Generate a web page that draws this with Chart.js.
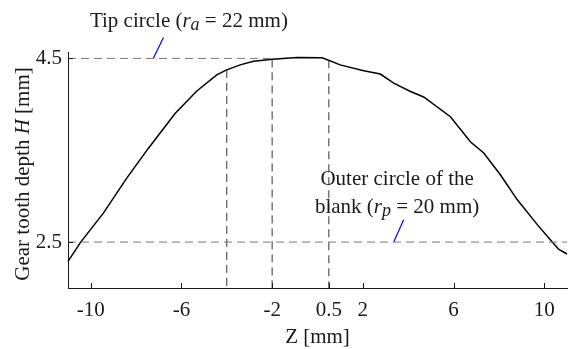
<!DOCTYPE html>
<html>
<head>
<meta charset="utf-8">
<script src="https://cdn.jsdelivr.net/npm/chart.js@4.4.1/dist/chart.umd.min.js"></script>
<style>
  html, body { margin: 0; padding: 0; background: #fff; }
</style>
</head>
<body>
<canvas id="depth" width="570" height="349"></canvas>
<script>
// Gear tooth depth H along the face width Z.

const Z_MM = [
  -11.0, -10.44, -9.44, -8.41, -7.46, -6.28, -5.32, -4.44, -4.03, -3.41,
  -2.82, -1.98, -0.9, 0.2, 0.49, 1.0, 2.04, 2.77, 3.36, 4.1,
  4.68, 5.86, 6.75, 7.33, 8.07, 8.81, 9.69, 10.35, 10.64, 11.0
];
const DEPTH_MM = [
  2.29, 2.50, 2.815, 3.196, 3.52, 3.90, 4.145, 4.32, 4.373, 4.43,
  4.47, 4.49, 4.51, 4.507, 4.48, 4.43, 4.365, 4.33, 4.23, 4.14,
  4.08, 3.865, 3.59, 3.47, 3.23, 2.96, 2.69, 2.50, 2.42, 2.37
];

const X_TICKS = [-10, -6, -2, 0.5, 2, 6, 10];
const Y_TICKS = [2.5, 4.5];

// reference levels: tip circle and blank outer circle
const TIP_DEPTH = 4.5;
const TIP_SPAN = [-11, -2];
const BLANK_DEPTH = 2.5;
const BLANK_SPAN = [-11, 11];

// vertical markers, drawn from the curve down to the axis
const MARK_Z = [-4, -2, 0.5];
const MARK_TOP = [4.375, 4.49, 4.48];

// short blue leaders pointing at the two levels
const TIP_LEADER_Z = [-7.24, -6.79];
const TIP_LEADER_H = [4.5, 4.728];
const BLANK_LEADER_Z = [3.36, 3.80];
const BLANK_LEADER_H = [2.5, 2.742];

const X_MIN = -11, X_MAX = 11;
const Y_MIN = 2.0, Y_MAX = 4.57;

const SERIF = "'Liberation Serif', 'Times New Roman', serif";
const FS = 21;
const INK = '#1a1a1a';

const pts = (xs, ys) => xs.map((x, i) => ({ x, y: ys[i] }));

const dashed = (data, color) => ({
  data, showLine: true, pointRadius: 0, borderColor: color,
  borderWidth: 1, borderDash: [8, 5], clip: false,
});

const datasets = [
  dashed(pts(TIP_SPAN, [TIP_DEPTH, TIP_DEPTH]), '#777'),
  dashed(pts(BLANK_SPAN, [BLANK_DEPTH, BLANK_DEPTH]), '#777'),
  ...MARK_Z.map((z, i) => dashed(pts([z, z], [MARK_TOP[i], Y_MIN]), '#333')),
  {
    data: pts(Z_MM, DEPTH_MM), showLine: true, pointRadius: 0,
    borderColor: '#000', borderWidth: 1.5, tension: 0, clip: false,
  },
  { data: pts(TIP_LEADER_Z, TIP_LEADER_H), showLine: true, pointRadius: 0,
    borderColor: '#0000ff', borderWidth: 1.2, clip: false },
  { data: pts(BLANK_LEADER_Z, BLANK_LEADER_H), showLine: true, pointRadius: 0,
    borderColor: '#0000ff', borderWidth: 1.2, clip: false },
];

// draw a line of text made of runs with different styles, centred on cx
function drawRuns(ctx, runs, cx, y) {
  const widths = runs.map(r => { ctx.font = r.font; return ctx.measureText(r.text).width; });
  let x = cx - widths.reduce((a, b) => a + b, 0) / 2;
  runs.forEach((r, i) => {
    ctx.font = r.font;
    ctx.fillText(r.text, x, y + (r.dy || 0));
    x += widths[i];
  });
}

const normal = `${FS}px ${SERIF}`;
const italic = `italic ${FS}px ${SERIF}`;
const italicSub = `italic ${Math.round(FS * 0.85)}px ${SERIF}`;

const decorations = {
  id: 'decorations',
  afterDatasetsDraw(chart) {
    const { ctx, chartArea: a, scales: { x, y } } = chart;
    ctx.save();

    // inward tick marks
    ctx.strokeStyle = INK;
    ctx.lineWidth = 1;
    ctx.beginPath();
    X_TICKS.forEach(v => {
      const px = Math.round(x.getPixelForValue(v)) + 0.5;
      ctx.moveTo(px, a.bottom);
      ctx.lineTo(px, a.bottom - 5);
    });
    Y_TICKS.forEach(v => {
      const py = Math.round(y.getPixelForValue(v)) + 0.5;
      ctx.moveTo(a.left, py);
      ctx.lineTo(a.left + 5, py);
    });
    ctx.stroke();

    ctx.fillStyle = INK;
    ctx.textBaseline = 'alphabetic';

    drawRuns(ctx, [
      { text: 'Tip circle (', font: normal },
      { text: 'r', font: italic },
      { text: 'a', font: italicSub, dy: 3 },
      { text: ' = 22 mm)', font: normal },
    ], x.getPixelForValue(-5.67), y.getPixelForValue(4.84));

    drawRuns(ctx, [{ text: 'Outer circle of the', font: normal }],
      x.getPixelForValue(3.51), y.getPixelForValue(3.123));
    drawRuns(ctx, [
      { text: 'blank (', font: normal },
      { text: 'r', font: italic },
      { text: 'p', font: italicSub, dy: 3 },
      { text: ' = 20 mm)', font: normal },
    ], x.getPixelForValue(3.51), y.getPixelForValue(2.815));

    // axis titles
    drawRuns(ctx, [{ text: 'Z [mm]', font: normal }], (a.left + a.right) / 2, 343);

    ctx.translate(29, (a.top + a.bottom) / 2 + 4);
    ctx.rotate(-Math.PI / 2);
    drawRuns(ctx, [
      { text: 'Gear tooth depth ', font: normal },
      { text: 'H', font: italic },
      { text: ' [mm]', font: normal },
    ], 0, 0);

    ctx.restore();
  },
};

new Chart(document.getElementById('depth'), {
  type: 'scatter',
  data: { datasets },
  options: {
    responsive: false,
    animation: false,
    layout: { padding: { top: 52, right: 3, left: 0, bottom: 0 } },
    plugins: { legend: { display: false }, tooltip: { enabled: false } },
    scales: {
      x: {
        type: 'linear', min: X_MIN, max: X_MAX,
        afterBuildTicks: s => { s.ticks = X_TICKS.map(value => ({ value })); },
        afterFit: s => { s.height = 61; },
        grid: { display: false, drawTicks: false },
        border: { display: true, color: INK, width: 1 },
        ticks: {
          autoSkip: false, maxRotation: 0, padding: 10, color: INK,
          font: { family: SERIF, size: FS },
          callback: v => String(v),
        },
      },
      y: {
        type: 'linear', min: Y_MIN, max: Y_MAX,
        afterBuildTicks: s => { s.ticks = Y_TICKS.map(value => ({ value })); },
        afterFit: s => { s.width = 68; },
        grid: { display: false, drawTicks: false },
        border: { display: true, color: INK, width: 1 },
        ticks: {
          padding: 6, color: INK,
          font: { family: SERIF, size: FS },
          callback: v => String(v),
        },
      },
    },
  },
  plugins: [decorations],
});
</script>
</body>
</html>
